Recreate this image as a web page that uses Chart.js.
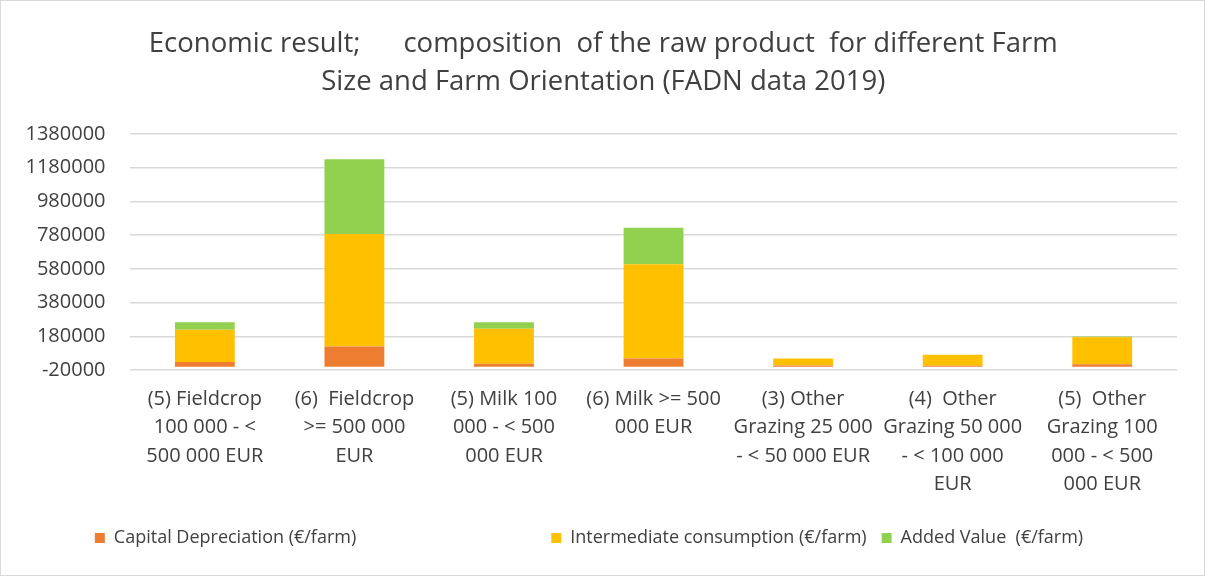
<!DOCTYPE html>
<html>
<head>
<meta charset="utf-8">
<script src="https://cdn.jsdelivr.net/npm/chart.js@4/dist/chart.umd.min.js"></script>
<style>
  html, body { margin: 0; padding: 0; background: #fff; }
  #wrap { position: relative; width: 1205px; height: 576px; box-sizing: border-box; border: 1px solid #d9d9d9; }
</style>
</head>
<body>
<div id="wrap"><canvas id="chart"></canvas></div>
<script>
// categories (already split into the lines they wrap to)
const categories = [
    ['(5) Fieldcrop', '100 000 - <', '500 000 EUR'],
    ['(6)  Fieldcrop', '>= 500 000', 'EUR'],
    ['(5) Milk 100', '000 - < 500', '000 EUR'],
    ['(6) Milk >= 500', '000 EUR'],
    ['(3) Other', 'Grazing 25 000', '- < 50 000 EUR'],
    ['(4)  Other', 'Grazing 50 000', '- < 100 000', 'EUR'],
    ['(5)  Other', 'Grazing 100', '000 - < 500', '000 EUR']
];

// series, €/farm
const capitalDepreciation = [28000, 120000, 17000, 48000, 6000, 5000, 14000];
const intermediateConsumption = [190000, 666000, 208000, 559000, 42000, 65000, 160000];
const addedValue = [45000, 444000, 38000, 217000, 0, 0, 5000];

const yTicks = [-20000, 180000, 380000, 580000, 780000, 980000, 1180000, 1380000];

// leading spaces nudge the centred title right, like the original
const titleLines = [
    '    Economic result;      composition  of the raw product  for different Farm',
    '    Size and Farm Orientation (FADN data 2019)'
];

const FONT = "'Open Sans', sans-serif";
const TEXT = '#404040';

const ctx = document.getElementById('chart').getContext('2d');
new Chart(ctx, {
    type: 'bar',
    data: {
        labels: categories,
        datasets: [
            { label: 'Capital Depreciation (€/farm)', data: capitalDepreciation, backgroundColor: '#ED7D31' },
            { label: 'Intermediate consumption (€/farm)', data: intermediateConsumption, backgroundColor: '#FFC000' },
            { label: 'Added Value  (€/farm)', data: addedValue, backgroundColor: '#92D050' }
        ]
    },
    options: {
        responsive: true,
        maintainAspectRatio: false,
        animation: false,
        layout: { padding: { top: 24, left: 0, right: 27, bottom: 18 } },
        datasets: { bar: { categoryPercentage: 0.8, barPercentage: 0.5 } },
        scales: {
            x: {
                stacked: true,
                grid: { display: false, drawTicks: false },
                border: { display: false },
                ticks: {
                    color: TEXT,
                    padding: 15,
                    maxRotation: 0,
                    autoSkip: false,
                    font: { family: FONT, size: 20, lineHeight: 1.425 }
                }
            },
            y: {
                stacked: true,
                min: -20000,
                max: 1380000,
                afterBuildTicks: axis => { axis.ticks = yTicks.map(v => ({ value: v })); },
                grid: { color: '#d9d9d9', lineWidth: 1.5, drawTicks: false },
                border: { display: false },
                ticks: {
                    color: TEXT,
                    padding: 24.5,
                    font: { family: FONT, size: 20 },
                    callback: v => String(v)
                }
            }
        },
        plugins: {
            title: {
                display: true,
                text: titleLines,
                color: TEXT,
                font: { family: FONT, size: 27.5, weight: 'normal', lineHeight: 1.38 },
                padding: { top: 0, bottom: 33 }
            },
            legend: {
                position: 'bottom',
                labels: {
                    color: TEXT,
                    boxWidth: 10,
                    boxHeight: 10,
                    padding: 15,
                    font: { family: FONT, size: 18 },
                    generateLabels: chart => {
                        const items = Chart.defaults.plugins.legend.labels.generateLabels(chart);
                        // wide gap after the first legend entry, as in the original
                        items[0].text += '\u2003'.repeat(10);
                        return items;
                    }
                }
            },
            tooltip: { enabled: false }
        }
    }
});
</script>
</body>
</html>
